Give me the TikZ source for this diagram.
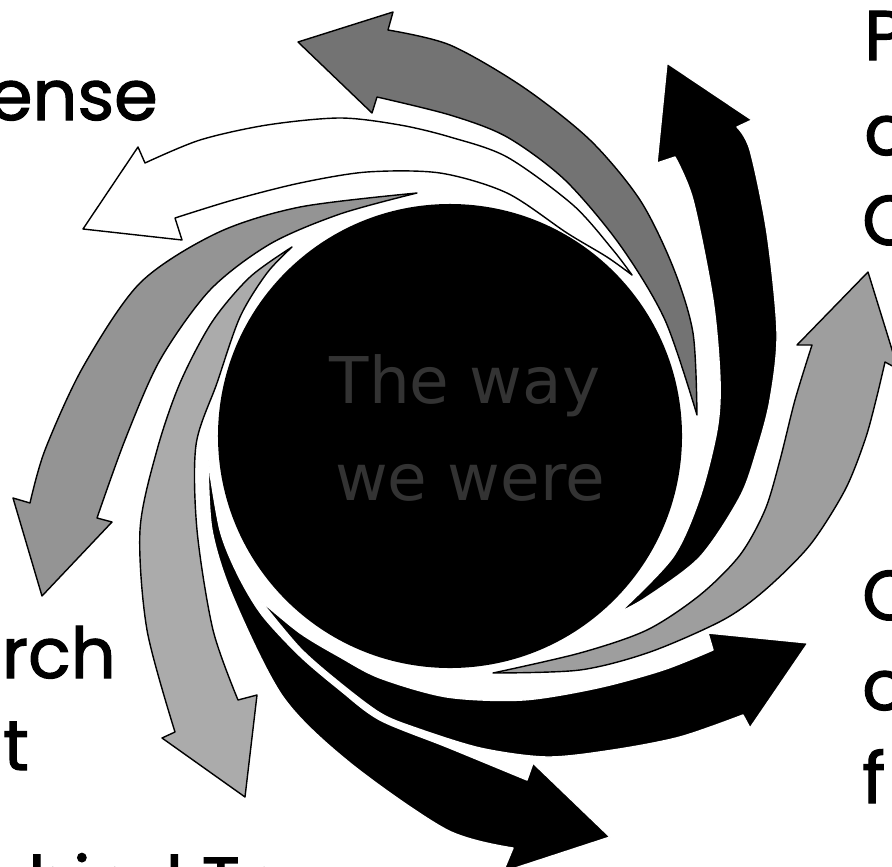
\documentclass[tikz,border=0pt]{standalone}
\usepackage{fontspec}
\newfontfamily\labelfont[UprightFeatures={FakeBold=1.6}]{Poppins}
\newfontfamily\wayfont{DejaVu Sans}

\begin{document}
\begin{tikzpicture}[x=0.03cm,y=-0.03cm,
  swirl/.style={draw=black,line width=1.2pt,line join=round},
  swirlink/.style={fill=black,draw=white,line width=1.2pt,line join=round},
  lbl/.style={font=\labelfont\fontsize{60}{60}\selectfont,inner sep=0pt},
  waytext/.style={font=\wayfont\fontsize{55}{55}\selectfont,text=black!80,inner sep=0pt}]
\useasboundingbox (0,0) rectangle (892,867);
% ---- centre disc
\node[circle,fill=black,inner sep=0pt,minimum size=13.92cm] (core) at (450,436) {};
\node[waytext,anchor=base] (way) at (465,403) {The way};
\node[waytext,anchor=base] (were) at (470,500) {we were};
% ---- dark gray, top
\filldraw[swirl,fill=black!55] plot[smooth] coordinates {(697,415) (665,320) (620,245) (565,180) (507,137) (450,115) (377,97)}
  -- (372,113) -- (298,42) -- (393,12) -- (388,30)
  -- plot[smooth] coordinates {(388,30) (450,45) (523,87) (590,140) (640,200) (673,267) (693,333) (697,415)} -- cycle;
% ---- white, upper left
\filldraw[swirl,fill=white] plot[smooth] coordinates {(632,275) (607,257) (567,233) (507,193) (440,173) (367,172) (300,183) (233,200) (175,218)}
  -- (182,240) -- (83,229) -- (138,147) -- (145,163)
  -- plot[smooth] coordinates {(145,163) (200,140) (267,125) (340,118) (400,125) (450,137) (507,157) (573,205) (613,250) (632,275)} -- cycle;
% ---- medium gray, left
\filldraw[swirl,fill=black!42] plot[smooth] coordinates {(417,193) (340,214) (270,244) (210,290) (160,360) (125,440) (97,518)}
  -- (112,522) -- (42,596) -- (13,498) -- (30,503)
  -- plot[smooth] coordinates {(30,503) (45,450) (83,367) (140,283) (217,233) (300,207) (417,193)} -- cycle;
% ---- light gray, lower left
\filldraw[swirl,fill=black!33] plot[smooth] coordinates {(292,247) (250,277) (212,322) (180,383) (157,450) (140,530) (147,630) (175,732)}
  -- (162,738) -- (245,797) -- (257,695) -- (238,700)
  -- plot[smooth] coordinates {(238,700) (213,630) (197,530) (196,445) (217,383) (240,317) (267,273) (292,247)} -- cycle;
% ---- black, bottom
\filldraw[swirlink] plot[smooth] coordinates {(208,460) (212,530) (233,597) (283,697) (350,763) (447,830) (513,848)}
  -- (503,872) -- (610,837) -- (533,763) -- (527,780)
  -- plot[smooth] coordinates {(527,780) (447,747) (380,720) (340,690) (300,656) (262,615) (238,575) (220,530) (208,460)} -- cycle;
% ---- black, lower right
\filldraw[swirlink] plot[smooth] coordinates {(260,600) (300,633) (340,657) (380,678) (447,697) (523,700) (597,688) (663,670) (713,650)}
  -- (708,633) -- (808,643) -- (750,728) -- (743,715)
  -- plot[smooth] coordinates {(743,715) (680,737) (613,750) (547,757) (480,748) (413,727) (380,713) (340,683) (300,648) (260,600)} -- cycle;
% ---- gray, right
\filldraw[swirl,fill=black!38] plot[smooth] coordinates {(493,673) (580,653) (647,630) (700,595) (740,555) (765,510) (780,460) (795,400) (812,345)}
  -- (797,345) -- (868,272) -- (898,369) -- (885,362)
  -- plot[smooth] coordinates {(885,362) (876,400) (865,440) (845,490) (810,545) (765,590) (723,620) (650,652) (580,670) (493,673)} -- cycle;
% ---- black, upper right
\filldraw[swirlink] plot[smooth] coordinates {(620,612) (673,557) (700,497) (717,430) (720,380) (713,300) (693,200) (675,157)}
  -- (657,163) -- (667,63) -- (752,120) -- (737,127)
  -- plot[smooth] coordinates {(737,127) (750,150) (767,233) (777,333) (770,400) (757,450) (740,497) (700,557) (647,597) (620,612)} -- cycle;
% ---- labels, cut by the frame
\node[lbl,anchor=base east] (lense) at (158,120) {ense};
\node[lbl,anchor=base east] (lrch) at (116,678) {rch};
\node[lbl,anchor=base east] (lt) at (29,770) {t};
\node[lbl,anchor=north west] (lhind) at (28,853) {hind Tr};
\node[lbl,anchor=base west] (lP) at (864,60) {P};
\node[lbl,anchor=base west] (lo) at (864,155) {o};
\node[lbl,anchor=base west] (lC) at (862,245) {C};
\node[lbl,anchor=base west] (lC2) at (862,620) {C};
\node[lbl,anchor=base west] (lo2) at (862,710) {o};
\node[lbl,anchor=base west] (lf) at (862,803) {f};
\end{tikzpicture}
\end{document}
